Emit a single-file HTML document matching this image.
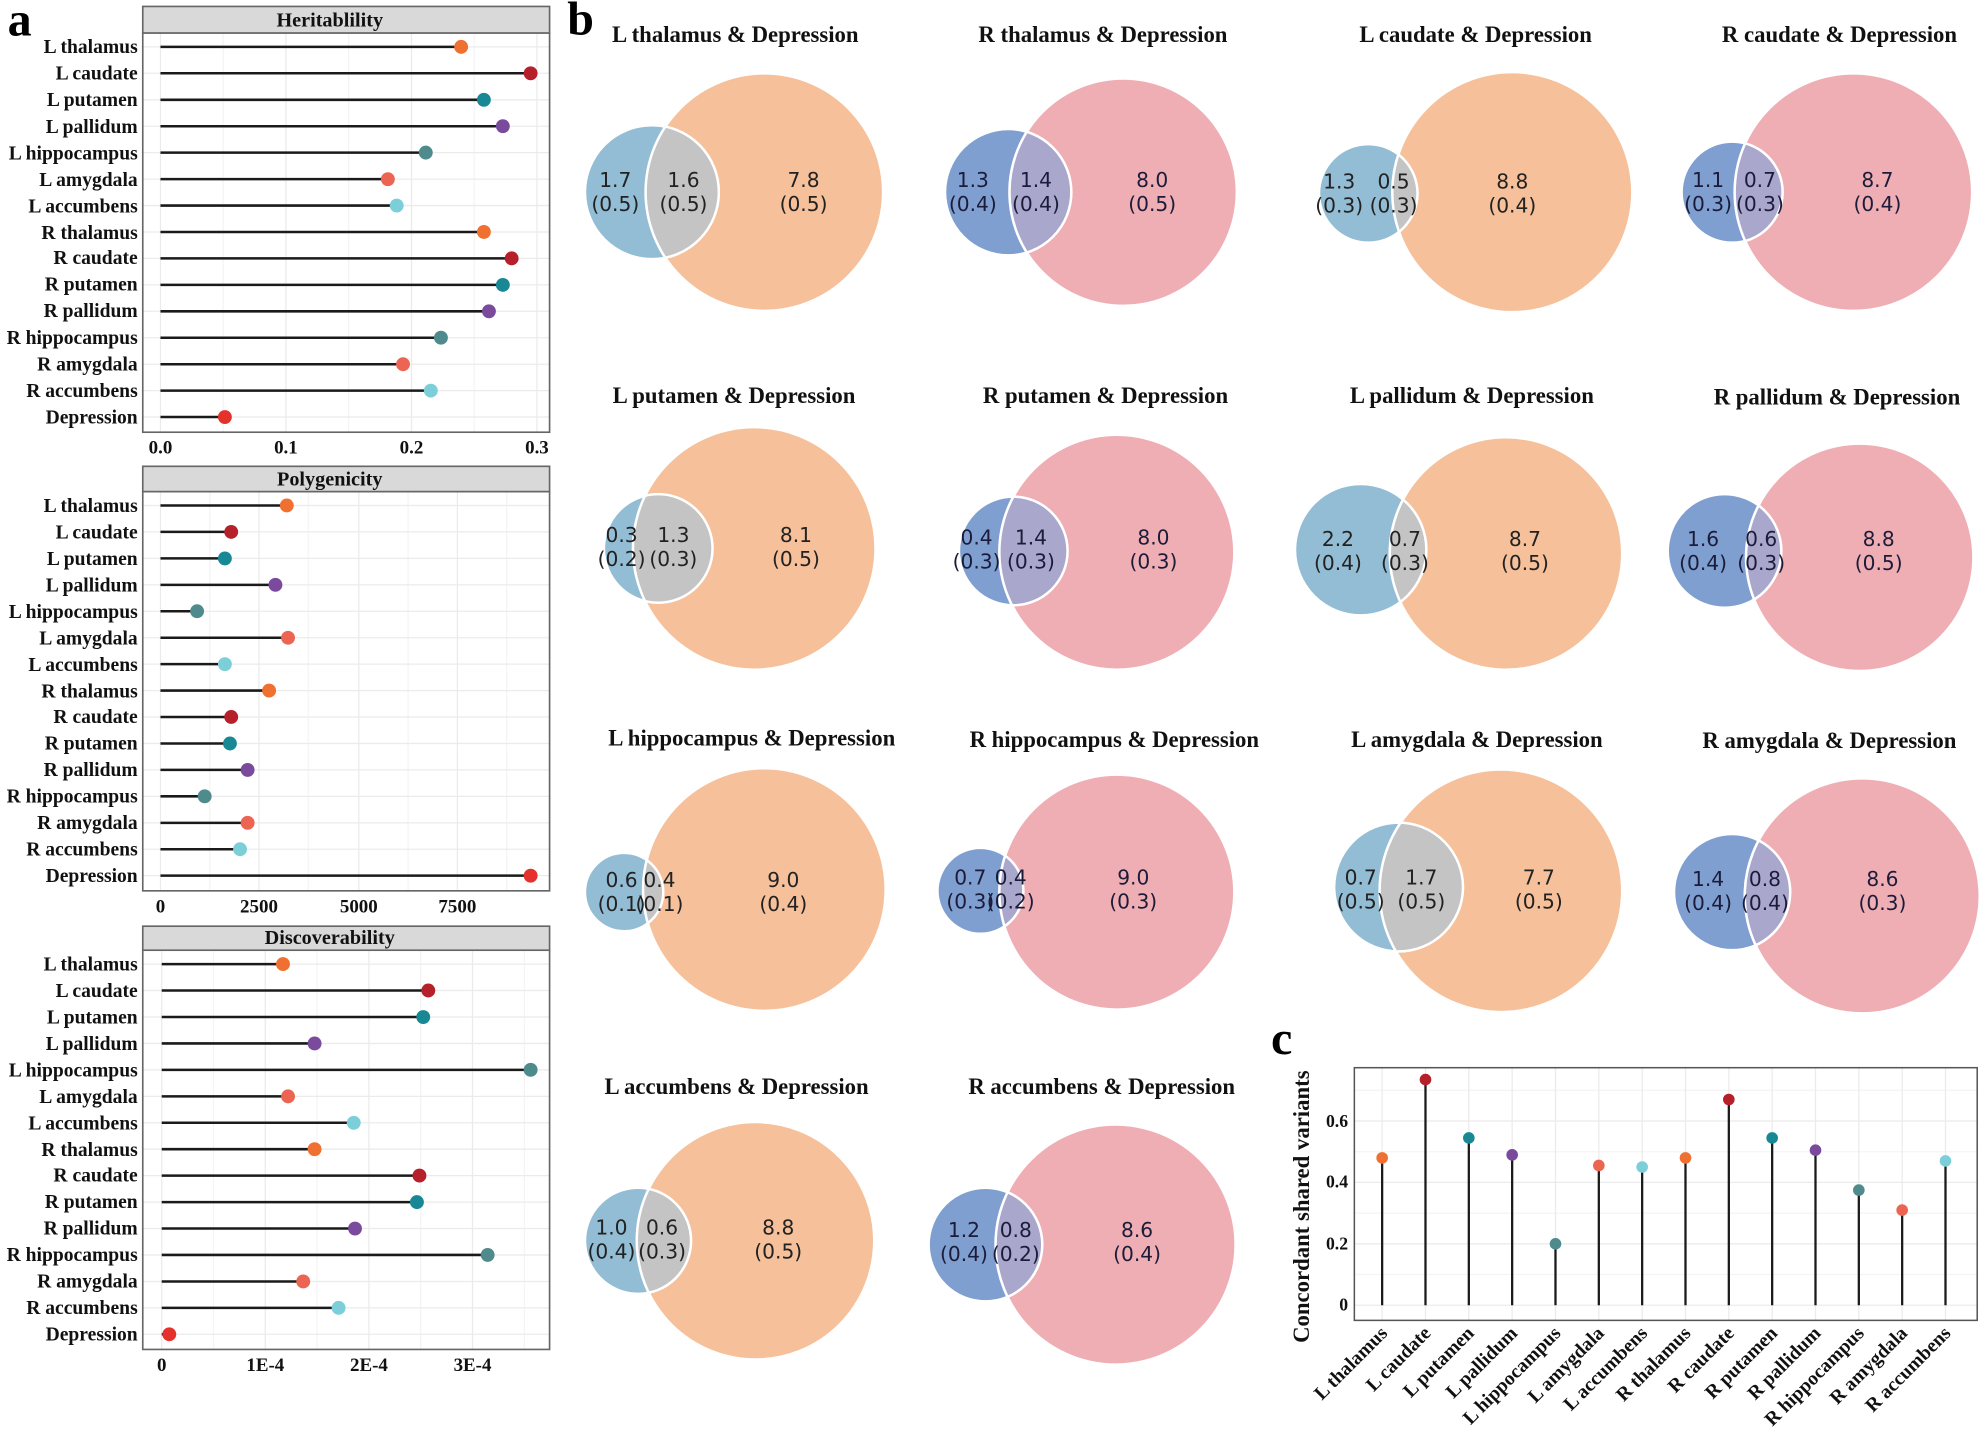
<!DOCTYPE html>
<html><head><meta charset="utf-8"><style>
html,body{margin:0;padding:0;background:#fff;}
svg{display:block;}
.lab{font-family:"Liberation Serif",serif;font-weight:bold;font-size:15.5px;fill:#111;}
.tick{font-family:"Liberation Serif",serif;font-weight:bold;font-size:15px;fill:#111;}
.ttl{font-family:"Liberation Serif",serif;font-weight:bold;font-size:18px;fill:#111;}
.big{font-family:"Liberation Serif",serif;font-weight:bold;font-size:38px;fill:#000;}
.vn{font-family:"DejaVu Sans",sans-serif;font-size:16px;fill:#222;}
.vp{font-family:"DejaVu Sans",sans-serif;font-size:16px;fill:#1c1c3a;}
.gl{stroke:#ebebeb;stroke-width:1;}
.gm{stroke:#f4f4f4;stroke-width:1;}
.sg{stroke:#1a1a1a;stroke-width:2;}
</style></head><body>
<svg width="1981" height="1438" viewBox="0 0 1568 1138" xmlns="http://www.w3.org/2000/svg">
<rect width="1568" height="1138" fill="#fff"/>
<text class="big" x="6" y="28">a</text>
<text class="big" x="449" y="27">b</text>
<text class="big" x="1006" y="834">c</text>

<!-- ===== Heritability ===== -->
<g>
<rect x="113" y="26" width="322" height="316" fill="#fff"/>
<g class="gm"><line x1="176.7" y1="26" x2="176.7" y2="342"/><line x1="276" y1="26" x2="276" y2="342"/><line x1="375.3" y1="26" x2="375.3" y2="342"/></g>
<g class="gl"><line x1="127" y1="26" x2="127" y2="342"/><line x1="226.3" y1="26" x2="226.3" y2="342"/><line x1="325.7" y1="26" x2="325.7" y2="342"/><line x1="425" y1="26" x2="425" y2="342"/>
<line x1="113" y1="37" x2="435" y2="37"/><line x1="113" y1="57.9" x2="435" y2="57.9"/><line x1="113" y1="78.9" x2="435" y2="78.9"/><line x1="113" y1="99.8" x2="435" y2="99.8"/><line x1="113" y1="120.7" x2="435" y2="120.7"/><line x1="113" y1="141.7" x2="435" y2="141.7"/><line x1="113" y1="162.6" x2="435" y2="162.6"/><line x1="113" y1="183.5" x2="435" y2="183.5"/><line x1="113" y1="204.4" x2="435" y2="204.4"/><line x1="113" y1="225.4" x2="435" y2="225.4"/><line x1="113" y1="246.3" x2="435" y2="246.3"/><line x1="113" y1="267.2" x2="435" y2="267.2"/><line x1="113" y1="288.2" x2="435" y2="288.2"/><line x1="113" y1="309.1" x2="435" y2="309.1"/><line x1="113" y1="330" x2="435" y2="330"/></g>
<g class="sg">
<line x1="127" y1="37" x2="365" y2="37"/><line x1="127" y1="57.9" x2="420" y2="57.9"/><line x1="127" y1="78.9" x2="383" y2="78.9"/><line x1="127" y1="99.8" x2="398" y2="99.8"/><line x1="127" y1="120.7" x2="337" y2="120.7"/><line x1="127" y1="141.7" x2="307" y2="141.7"/><line x1="127" y1="162.6" x2="314" y2="162.6"/><line x1="127" y1="183.5" x2="383" y2="183.5"/><line x1="127" y1="204.4" x2="405" y2="204.4"/><line x1="127" y1="225.4" x2="398" y2="225.4"/><line x1="127" y1="246.3" x2="387" y2="246.3"/><line x1="127" y1="267.2" x2="349" y2="267.2"/><line x1="127" y1="288.2" x2="319" y2="288.2"/><line x1="127" y1="309.1" x2="341" y2="309.1"/><line x1="127" y1="330" x2="178" y2="330"/></g>
<circle cx="365" cy="37" r="5.5" fill="#ef7030"/><circle cx="420" cy="57.9" r="5.5" fill="#b5202a"/><circle cx="383" cy="78.9" r="5.5" fill="#178894"/><circle cx="398" cy="99.8" r="5.5" fill="#7a4a9c"/><circle cx="337" cy="120.7" r="5.5" fill="#4f8a8d"/><circle cx="307" cy="141.7" r="5.5" fill="#ec6452"/><circle cx="314" cy="162.6" r="5.5" fill="#7ccfd8"/><circle cx="383" cy="183.5" r="5.5" fill="#ef7030"/><circle cx="405" cy="204.4" r="5.5" fill="#b5202a"/><circle cx="398" cy="225.4" r="5.5" fill="#178894"/><circle cx="387" cy="246.3" r="5.5" fill="#7a4a9c"/><circle cx="349" cy="267.2" r="5.5" fill="#4f8a8d"/><circle cx="319" cy="288.2" r="5.5" fill="#ec6452"/><circle cx="341" cy="309.1" r="5.5" fill="#7ccfd8"/><circle cx="178" cy="330" r="5.5" fill="#e4312b"/>
<rect x="113" y="26" width="322" height="316" fill="none" stroke="#666" stroke-width="1.3"/>
<rect x="113" y="5" width="322" height="21" fill="#d9d9d9" stroke="#666" stroke-width="1.3"/>
<text class="ttl" x="261" y="21" text-anchor="middle" style="font-size:16px">Heritablility</text>
<g class="lab" text-anchor="end">
<text x="109" y="42">L thalamus</text><text x="109" y="63">L caudate</text><text x="109" y="84">L putamen</text><text x="109" y="105">L pallidum</text><text x="109" y="126">L hippocampus</text><text x="109" y="147">L amygdala</text><text x="109" y="168">L accumbens</text><text x="109" y="189">R thalamus</text><text x="109" y="209">R caudate</text><text x="109" y="230">R putamen</text><text x="109" y="251">R pallidum</text><text x="109" y="272">R hippocampus</text><text x="109" y="293">R amygdala</text><text x="109" y="314">R accumbens</text><text x="109" y="335">Depression</text></g>
<g class="tick" text-anchor="middle"><text x="127" y="359">0.0</text><text x="226.3" y="359">0.1</text><text x="325.7" y="359">0.2</text><text x="425" y="359">0.3</text></g>
</g>

<!-- ===== Polygenicity ===== -->
<g>
<g class="gm"><line x1="166" y1="389" x2="166" y2="705"/><line x1="244" y1="389" x2="244" y2="705"/><line x1="323" y1="389" x2="323" y2="705"/><line x1="401" y1="389" x2="401" y2="705"/></g>
<g class="gl"><line x1="127" y1="389" x2="127" y2="705"/><line x1="205" y1="389" x2="205" y2="705"/><line x1="284" y1="389" x2="284" y2="705"/><line x1="362" y1="389" x2="362" y2="705"/>
<line x1="113" y1="400" x2="435" y2="400"/><line x1="113" y1="420.9" x2="435" y2="420.9"/><line x1="113" y1="441.9" x2="435" y2="441.9"/><line x1="113" y1="462.8" x2="435" y2="462.8"/><line x1="113" y1="483.7" x2="435" y2="483.7"/><line x1="113" y1="504.7" x2="435" y2="504.7"/><line x1="113" y1="525.6" x2="435" y2="525.6"/><line x1="113" y1="546.5" x2="435" y2="546.5"/><line x1="113" y1="567.4" x2="435" y2="567.4"/><line x1="113" y1="588.4" x2="435" y2="588.4"/><line x1="113" y1="609.3" x2="435" y2="609.3"/><line x1="113" y1="630.2" x2="435" y2="630.2"/><line x1="113" y1="651.2" x2="435" y2="651.2"/><line x1="113" y1="672.1" x2="435" y2="672.1"/><line x1="113" y1="693" x2="435" y2="693"/></g>
<g class="sg">
<line x1="127" y1="400" x2="227" y2="400"/><line x1="127" y1="420.9" x2="183" y2="420.9"/><line x1="127" y1="441.9" x2="178" y2="441.9"/><line x1="127" y1="462.8" x2="218" y2="462.8"/><line x1="127" y1="483.7" x2="156" y2="483.7"/><line x1="127" y1="504.7" x2="228" y2="504.7"/><line x1="127" y1="525.6" x2="178" y2="525.6"/><line x1="127" y1="546.5" x2="213" y2="546.5"/><line x1="127" y1="567.4" x2="183" y2="567.4"/><line x1="127" y1="588.4" x2="182" y2="588.4"/><line x1="127" y1="609.3" x2="196" y2="609.3"/><line x1="127" y1="630.2" x2="162" y2="630.2"/><line x1="127" y1="651.2" x2="196" y2="651.2"/><line x1="127" y1="672.1" x2="190" y2="672.1"/><line x1="127" y1="693" x2="420" y2="693"/></g>
<circle cx="227" cy="400" r="5.5" fill="#ef7030"/><circle cx="183" cy="420.9" r="5.5" fill="#b5202a"/><circle cx="178" cy="441.9" r="5.5" fill="#178894"/><circle cx="218" cy="462.8" r="5.5" fill="#7a4a9c"/><circle cx="156" cy="483.7" r="5.5" fill="#4f8a8d"/><circle cx="228" cy="504.7" r="5.5" fill="#ec6452"/><circle cx="178" cy="525.6" r="5.5" fill="#7ccfd8"/><circle cx="213" cy="546.5" r="5.5" fill="#ef7030"/><circle cx="183" cy="567.4" r="5.5" fill="#b5202a"/><circle cx="182" cy="588.4" r="5.5" fill="#178894"/><circle cx="196" cy="609.3" r="5.5" fill="#7a4a9c"/><circle cx="162" cy="630.2" r="5.5" fill="#4f8a8d"/><circle cx="196" cy="651.2" r="5.5" fill="#ec6452"/><circle cx="190" cy="672.1" r="5.5" fill="#7ccfd8"/><circle cx="420" cy="693" r="5.5" fill="#e4312b"/>
<rect x="113" y="389" width="322" height="316" fill="none" stroke="#666" stroke-width="1.3"/>
<rect x="113" y="369" width="322" height="20" fill="#d9d9d9" stroke="#666" stroke-width="1.3"/>
<text class="ttl" x="261" y="384" text-anchor="middle" style="font-size:16px">Polygenicity</text>
<g class="lab" text-anchor="end">
<text x="109" y="405">L thalamus</text><text x="109" y="426">L caudate</text><text x="109" y="447">L putamen</text><text x="109" y="468">L pallidum</text><text x="109" y="489">L hippocampus</text><text x="109" y="510">L amygdala</text><text x="109" y="531">L accumbens</text><text x="109" y="552">R thalamus</text><text x="109" y="572">R caudate</text><text x="109" y="593">R putamen</text><text x="109" y="614">R pallidum</text><text x="109" y="635">R hippocampus</text><text x="109" y="656">R amygdala</text><text x="109" y="677">R accumbens</text><text x="109" y="698">Depression</text></g>
<g class="tick" text-anchor="middle"><text x="127" y="722">0</text><text x="205" y="722">2500</text><text x="284" y="722">5000</text><text x="362" y="722">7500</text></g>
</g>

<!-- ===== Discoverability ===== -->
<g>
<g class="gm"><line x1="169" y1="752" x2="169" y2="1068"/><line x1="251" y1="752" x2="251" y2="1068"/><line x1="333" y1="752" x2="333" y2="1068"/><line x1="415" y1="752" x2="415" y2="1068"/></g>
<g class="gl"><line x1="128" y1="752" x2="128" y2="1068"/><line x1="210" y1="752" x2="210" y2="1068"/><line x1="292" y1="752" x2="292" y2="1068"/><line x1="374" y1="752" x2="374" y2="1068"/>
<line x1="113" y1="763" x2="435" y2="763"/><line x1="113" y1="783.9" x2="435" y2="783.9"/><line x1="113" y1="804.9" x2="435" y2="804.9"/><line x1="113" y1="825.8" x2="435" y2="825.8"/><line x1="113" y1="846.7" x2="435" y2="846.7"/><line x1="113" y1="867.7" x2="435" y2="867.7"/><line x1="113" y1="888.6" x2="435" y2="888.6"/><line x1="113" y1="909.5" x2="435" y2="909.5"/><line x1="113" y1="930.4" x2="435" y2="930.4"/><line x1="113" y1="951.4" x2="435" y2="951.4"/><line x1="113" y1="972.3" x2="435" y2="972.3"/><line x1="113" y1="993.2" x2="435" y2="993.2"/><line x1="113" y1="1014.2" x2="435" y2="1014.2"/><line x1="113" y1="1035.1" x2="435" y2="1035.1"/><line x1="113" y1="1056" x2="435" y2="1056"/></g>
<g class="sg">
<line x1="128" y1="763" x2="224" y2="763"/><line x1="128" y1="783.9" x2="339" y2="783.9"/><line x1="128" y1="804.9" x2="335" y2="804.9"/><line x1="128" y1="825.8" x2="249" y2="825.8"/><line x1="128" y1="846.7" x2="420" y2="846.7"/><line x1="128" y1="867.7" x2="228" y2="867.7"/><line x1="128" y1="888.6" x2="280" y2="888.6"/><line x1="128" y1="909.5" x2="249" y2="909.5"/><line x1="128" y1="930.4" x2="332" y2="930.4"/><line x1="128" y1="951.4" x2="330" y2="951.4"/><line x1="128" y1="972.3" x2="281" y2="972.3"/><line x1="128" y1="993.2" x2="386" y2="993.2"/><line x1="128" y1="1014.2" x2="240" y2="1014.2"/><line x1="128" y1="1035.1" x2="268" y2="1035.1"/><line x1="128" y1="1056" x2="134" y2="1056"/></g>
<circle cx="224" cy="763" r="5.5" fill="#ef7030"/><circle cx="339" cy="783.9" r="5.5" fill="#b5202a"/><circle cx="335" cy="804.9" r="5.5" fill="#178894"/><circle cx="249" cy="825.8" r="5.5" fill="#7a4a9c"/><circle cx="420" cy="846.7" r="5.5" fill="#4f8a8d"/><circle cx="228" cy="867.7" r="5.5" fill="#ec6452"/><circle cx="280" cy="888.6" r="5.5" fill="#7ccfd8"/><circle cx="249" cy="909.5" r="5.5" fill="#ef7030"/><circle cx="332" cy="930.4" r="5.5" fill="#b5202a"/><circle cx="330" cy="951.4" r="5.5" fill="#178894"/><circle cx="281" cy="972.3" r="5.5" fill="#7a4a9c"/><circle cx="386" cy="993.2" r="5.5" fill="#4f8a8d"/><circle cx="240" cy="1014.2" r="5.5" fill="#ec6452"/><circle cx="268" cy="1035.1" r="5.5" fill="#7ccfd8"/><circle cx="134" cy="1056" r="5.5" fill="#e4312b"/>
<rect x="113" y="752" width="322" height="316" fill="none" stroke="#666" stroke-width="1.3"/>
<rect x="113" y="733" width="322" height="19" fill="#d9d9d9" stroke="#666" stroke-width="1.3"/>
<text class="ttl" x="261" y="747" text-anchor="middle" style="font-size:16px">Discoverability</text>
<g class="lab" text-anchor="end">
<text x="109" y="768">L thalamus</text><text x="109" y="789">L caudate</text><text x="109" y="810">L putamen</text><text x="109" y="831">L pallidum</text><text x="109" y="852">L hippocampus</text><text x="109" y="873">L amygdala</text><text x="109" y="894">L accumbens</text><text x="109" y="915">R thalamus</text><text x="109" y="935">R caudate</text><text x="109" y="956">R putamen</text><text x="109" y="977">R pallidum</text><text x="109" y="998">R hippocampus</text><text x="109" y="1019">R amygdala</text><text x="109" y="1040">R accumbens</text><text x="109" y="1061">Depression</text></g>
<g class="tick" text-anchor="middle"><text x="128" y="1085">0</text><text x="210" y="1085">1E-4</text><text x="292" y="1085">2E-4</text><text x="374" y="1085">3E-4</text></g>
</g>

<!-- ===== Venn diagrams ===== -->
<defs>
<clipPath id="c1"><circle cx="605" cy="152" r="94"/></clipPath>
<clipPath id="c2"><circle cx="889" cy="152" r="90"/></clipPath>
<clipPath id="c3"><circle cx="1197" cy="152" r="95"/></clipPath>
<clipPath id="c4"><circle cx="1467" cy="152" r="94"/></clipPath>
<clipPath id="c5"><circle cx="597" cy="434" r="96"/></clipPath>
<clipPath id="c6"><circle cx="884" cy="437" r="93"/></clipPath>
<clipPath id="c7"><circle cx="1192" cy="438" r="92"/></clipPath>
<clipPath id="c8"><circle cx="1472" cy="441" r="90"/></clipPath>
<clipPath id="c9"><circle cx="605" cy="704" r="96"/></clipPath>
<clipPath id="c10"><circle cx="884" cy="706" r="93"/></clipPath>
<clipPath id="c11"><circle cx="1188" cy="705" r="96"/></clipPath>
<clipPath id="c12"><circle cx="1474" cy="709" r="93"/></clipPath>
<clipPath id="c13"><circle cx="598" cy="982" r="94"/></clipPath>
<clipPath id="c14"><circle cx="883" cy="985" r="95"/></clipPath>
</defs>

<g class="ttl" text-anchor="middle">
<text x="582" y="33">L thalamus &amp; Depression</text><text x="873" y="33">R thalamus &amp; Depression</text><text x="1168" y="33">L caudate &amp; Depression</text><text x="1456" y="33">R caudate &amp; Depression</text>
<text x="581" y="319">L putamen &amp; Depression</text><text x="875" y="319">R putamen &amp; Depression</text><text x="1165" y="319">L pallidum &amp; Depression</text><text x="1454" y="320">R pallidum &amp; Depression</text>
<text x="595" y="590">L hippocampus &amp; Depression</text><text x="882" y="591">R hippocampus &amp; Depression</text><text x="1169" y="591">L amygdala &amp; Depression</text><text x="1448" y="592">R amygdala &amp; Depression</text>
<text x="583" y="866">L accumbens &amp; Depression</text><text x="872" y="866">R accumbens &amp; Depression</text>
</g>

<!-- V1 -->
<g><circle cx="605" cy="152" r="94" fill="#f5c09a"/><circle cx="516" cy="152" r="53" fill="#93bdd4"/><circle cx="516" cy="152" r="53" fill="#c4c4c4" clip-path="url(#c1)"/><circle cx="516" cy="152" r="53" fill="none" stroke="#fff" stroke-width="2"/><circle cx="605" cy="152" r="94" fill="none" stroke="#fff" stroke-width="2"/>
<g class="vn" text-anchor="middle"><text x="487" y="148">1.7</text><text x="487" y="167">(0.5)</text><text x="541" y="148">1.6</text><text x="541" y="167">(0.5)</text><text x="636" y="148">7.8</text><text x="636" y="167">(0.5)</text></g></g>
<!-- V2 -->
<g><circle cx="889" cy="152" r="90" fill="#efaeb3"/><circle cx="798" cy="152" r="50" fill="#7f9fd0"/><circle cx="798" cy="152" r="50" fill="#aaa7cc" clip-path="url(#c2)"/><circle cx="798" cy="152" r="50" fill="none" stroke="#fff" stroke-width="2"/><circle cx="889" cy="152" r="90" fill="none" stroke="#fff" stroke-width="2"/>
<g class="vp" text-anchor="middle"><text x="770" y="148">1.3</text><text x="770" y="167">(0.4)</text><text x="820" y="148">1.4</text><text x="820" y="167">(0.4)</text><text x="912" y="148">8.0</text><text x="912" y="167">(0.5)</text></g></g>
<!-- V3 -->
<g><circle cx="1197" cy="152" r="95" fill="#f5c09a"/><circle cx="1083" cy="153" r="39" fill="#93bdd4"/><circle cx="1083" cy="153" r="39" fill="#c4c4c4" clip-path="url(#c3)"/><circle cx="1083" cy="153" r="39" fill="none" stroke="#fff" stroke-width="2"/><circle cx="1197" cy="152" r="95" fill="none" stroke="#fff" stroke-width="2"/>
<g class="vn" text-anchor="middle"><text x="1060" y="149">1.3</text><text x="1060" y="168">(0.3)</text><text x="1103" y="149">0.5</text><text x="1103" y="168">(0.3)</text><text x="1197" y="149">8.8</text><text x="1197" y="168">(0.4)</text></g></g>
<!-- V4 -->
<g><circle cx="1467" cy="152" r="94" fill="#efaeb3"/><circle cx="1371" cy="152" r="40" fill="#7f9fd0"/><circle cx="1371" cy="152" r="40" fill="#aaa7cc" clip-path="url(#c4)"/><circle cx="1371" cy="152" r="40" fill="none" stroke="#fff" stroke-width="2"/><circle cx="1467" cy="152" r="94" fill="none" stroke="#fff" stroke-width="2"/>
<g class="vp" text-anchor="middle"><text x="1352" y="148">1.1</text><text x="1352" y="167">(0.3)</text><text x="1393" y="148">0.7</text><text x="1393" y="167">(0.3)</text><text x="1486" y="148">8.7</text><text x="1486" y="167">(0.4)</text></g></g>
<!-- V5 -->
<g><circle cx="597" cy="434" r="96" fill="#f5c09a"/><circle cx="521" cy="434" r="43" fill="#93bdd4"/><circle cx="521" cy="434" r="43" fill="#c4c4c4" clip-path="url(#c5)"/><circle cx="521" cy="434" r="43" fill="none" stroke="#fff" stroke-width="2"/><circle cx="597" cy="434" r="96" fill="none" stroke="#fff" stroke-width="2"/>
<g class="vn" text-anchor="middle"><text x="492" y="429">0.3</text><text x="492" y="448">(0.2)</text><text x="533" y="429">1.3</text><text x="533" y="448">(0.3)</text><text x="630" y="429">8.1</text><text x="630" y="448">(0.5)</text></g></g>
<!-- V6 -->
<g><circle cx="884" cy="437" r="93" fill="#efaeb3"/><circle cx="802" cy="436" r="43" fill="#7f9fd0"/><circle cx="802" cy="436" r="43" fill="#aaa7cc" clip-path="url(#c6)"/><circle cx="802" cy="436" r="43" fill="none" stroke="#fff" stroke-width="2"/><circle cx="884" cy="437" r="93" fill="none" stroke="#fff" stroke-width="2"/>
<g class="vp" text-anchor="middle"><text x="773" y="431">0.4</text><text x="773" y="450">(0.3)</text><text x="816" y="431">1.4</text><text x="816" y="450">(0.3)</text><text x="913" y="431">8.0</text><text x="913" y="450">(0.3)</text></g></g>
<!-- V7 -->
<g><circle cx="1192" cy="438" r="92" fill="#f5c09a"/><circle cx="1077" cy="435" r="52" fill="#93bdd4"/><circle cx="1077" cy="435" r="52" fill="#c4c4c4" clip-path="url(#c7)"/><circle cx="1077" cy="435" r="52" fill="none" stroke="#fff" stroke-width="2"/><circle cx="1192" cy="438" r="92" fill="none" stroke="#fff" stroke-width="2"/>
<g class="vn" text-anchor="middle"><text x="1059" y="432">2.2</text><text x="1059" y="451">(0.4)</text><text x="1112" y="432">0.7</text><text x="1112" y="451">(0.3)</text><text x="1207" y="432">8.7</text><text x="1207" y="451">(0.5)</text></g></g>
<!-- V8 -->
<g><circle cx="1472" cy="441" r="90" fill="#efaeb3"/><circle cx="1365" cy="436" r="45" fill="#7f9fd0"/><circle cx="1365" cy="436" r="45" fill="#aaa7cc" clip-path="url(#c8)"/><circle cx="1365" cy="436" r="45" fill="none" stroke="#fff" stroke-width="2"/><circle cx="1472" cy="441" r="90" fill="none" stroke="#fff" stroke-width="2"/>
<g class="vp" text-anchor="middle"><text x="1348" y="432">1.6</text><text x="1348" y="451">(0.4)</text><text x="1394" y="432">0.6</text><text x="1394" y="451">(0.3)</text><text x="1487" y="432">8.8</text><text x="1487" y="451">(0.5)</text></g></g>
<!-- V9 -->
<g><circle cx="605" cy="704" r="96" fill="#f5c09a"/><circle cx="494" cy="706" r="31" fill="#93bdd4"/><circle cx="494" cy="706" r="31" fill="#c4c4c4" clip-path="url(#c9)"/><circle cx="494" cy="706" r="31" fill="none" stroke="#fff" stroke-width="2"/><circle cx="605" cy="704" r="96" fill="none" stroke="#fff" stroke-width="2"/>
<g class="vn" text-anchor="middle"><text x="492" y="702">0.6</text><text x="492" y="721">(0.1)</text><text x="522" y="702">0.4</text><text x="522" y="721">(0.1)</text><text x="620" y="702">9.0</text><text x="620" y="721">(0.4)</text></g></g>
<!-- V10 -->
<g><circle cx="884" cy="706" r="93" fill="#efaeb3"/><circle cx="776" cy="705" r="34" fill="#7f9fd0"/><circle cx="776" cy="705" r="34" fill="#aaa7cc" clip-path="url(#c10)"/><circle cx="776" cy="705" r="34" fill="none" stroke="#fff" stroke-width="2"/><circle cx="884" cy="706" r="93" fill="none" stroke="#fff" stroke-width="2"/>
<g class="vp" text-anchor="middle"><text x="768" y="700">0.7</text><text x="768" y="719">(0.3)</text><text x="800" y="700">0.4</text><text x="800" y="719">(0.2)</text><text x="897" y="700">9.0</text><text x="897" y="719">(0.3)</text></g></g>
<!-- V11 -->
<g><circle cx="1188" cy="705" r="96" fill="#f5c09a"/><circle cx="1107" cy="702" r="51" fill="#93bdd4"/><circle cx="1107" cy="702" r="51" fill="#c4c4c4" clip-path="url(#c11)"/><circle cx="1107" cy="702" r="51" fill="none" stroke="#fff" stroke-width="2"/><circle cx="1188" cy="705" r="96" fill="none" stroke="#fff" stroke-width="2"/>
<g class="vn" text-anchor="middle"><text x="1077" y="700">0.7</text><text x="1077" y="719">(0.5)</text><text x="1125" y="700">1.7</text><text x="1125" y="719">(0.5)</text><text x="1218" y="700">7.7</text><text x="1218" y="719">(0.5)</text></g></g>
<!-- V12 -->
<g><circle cx="1474" cy="709" r="93" fill="#efaeb3"/><circle cx="1371" cy="706" r="46" fill="#7f9fd0"/><circle cx="1371" cy="706" r="46" fill="#aaa7cc" clip-path="url(#c12)"/><circle cx="1371" cy="706" r="46" fill="none" stroke="#fff" stroke-width="2"/><circle cx="1474" cy="709" r="93" fill="none" stroke="#fff" stroke-width="2"/>
<g class="vp" text-anchor="middle"><text x="1352" y="701">1.4</text><text x="1352" y="720">(0.4)</text><text x="1397" y="701">0.8</text><text x="1397" y="720">(0.4)</text><text x="1490" y="701">8.6</text><text x="1490" y="720">(0.3)</text></g></g>
<!-- V13 -->
<g><circle cx="598" cy="982" r="94" fill="#f5c09a"/><circle cx="505" cy="982" r="42" fill="#93bdd4"/><circle cx="505" cy="982" r="42" fill="#c4c4c4" clip-path="url(#c13)"/><circle cx="505" cy="982" r="42" fill="none" stroke="#fff" stroke-width="2"/><circle cx="598" cy="982" r="94" fill="none" stroke="#fff" stroke-width="2"/>
<g class="vn" text-anchor="middle"><text x="484" y="977">1.0</text><text x="484" y="996">(0.4)</text><text x="524" y="977">0.6</text><text x="524" y="996">(0.3)</text><text x="616" y="977">8.8</text><text x="616" y="996">(0.5)</text></g></g>
<!-- V14 -->
<g><circle cx="883" cy="985" r="95" fill="#efaeb3"/><circle cx="780" cy="985" r="45" fill="#7f9fd0"/><circle cx="780" cy="985" r="45" fill="#aaa7cc" clip-path="url(#c14)"/><circle cx="780" cy="985" r="45" fill="none" stroke="#fff" stroke-width="2"/><circle cx="883" cy="985" r="95" fill="none" stroke="#fff" stroke-width="2"/>
<g class="vp" text-anchor="middle"><text x="763" y="979">1.2</text><text x="763" y="998">(0.4)</text><text x="804" y="979">0.8</text><text x="804" y="998">(0.2)</text><text x="900" y="979">8.6</text><text x="900" y="998">(0.4)</text></g></g>

<!-- ===== Panel c ===== -->
<g>
<g class="gm"><line x1="1072" y1="1008.7" x2="1565" y2="1008.7"/><line x1="1072" y1="960.1" x2="1565" y2="960.1"/><line x1="1072" y1="911.5" x2="1565" y2="911.5"/><line x1="1072" y1="862.9" x2="1565" y2="862.9"/></g>
<g class="gl">
<line x1="1072" y1="1033" x2="1565" y2="1033"/><line x1="1072" y1="984.4" x2="1565" y2="984.4"/><line x1="1072" y1="935.8" x2="1565" y2="935.8"/><line x1="1072" y1="887.2" x2="1565" y2="887.2"/>
<line x1="1094" y1="845" x2="1094" y2="1045"/><line x1="1128.3" y1="845" x2="1128.3" y2="1045"/><line x1="1162.6" y1="845" x2="1162.6" y2="1045"/><line x1="1196.9" y1="845" x2="1196.9" y2="1045"/><line x1="1231.2" y1="845" x2="1231.2" y2="1045"/><line x1="1265.5" y1="845" x2="1265.5" y2="1045"/><line x1="1299.8" y1="845" x2="1299.8" y2="1045"/><line x1="1334.1" y1="845" x2="1334.1" y2="1045"/><line x1="1368.4" y1="845" x2="1368.4" y2="1045"/><line x1="1402.7" y1="845" x2="1402.7" y2="1045"/><line x1="1437" y1="845" x2="1437" y2="1045"/><line x1="1471.3" y1="845" x2="1471.3" y2="1045"/><line x1="1505.6" y1="845" x2="1505.6" y2="1045"/><line x1="1539.9" y1="845" x2="1539.9" y2="1045"/></g>
<g stroke="#1a1a1a" stroke-width="1.8">
<line x1="1094" y1="1033" x2="1094" y2="916.4"/><line x1="1128.3" y1="1033" x2="1128.3" y2="854.4"/><line x1="1162.6" y1="1033" x2="1162.6" y2="900.6"/><line x1="1196.9" y1="1033" x2="1196.9" y2="914"/><line x1="1231.2" y1="1033" x2="1231.2" y2="984.4"/><line x1="1265.5" y1="1033" x2="1265.5" y2="922.4"/><line x1="1299.8" y1="1033" x2="1299.8" y2="923.6"/><line x1="1334.1" y1="1033" x2="1334.1" y2="916.4"/><line x1="1368.4" y1="1033" x2="1368.4" y2="870.2"/><line x1="1402.7" y1="1033" x2="1402.7" y2="900.6"/><line x1="1437" y1="1033" x2="1437" y2="910.3"/><line x1="1471.3" y1="1033" x2="1471.3" y2="941.9"/><line x1="1505.6" y1="1033" x2="1505.6" y2="957.7"/><line x1="1539.9" y1="1033" x2="1539.9" y2="918.8"/></g>
<circle cx="1094" cy="916.4" r="4.6" fill="#ef7030"/><circle cx="1128.3" cy="854.4" r="4.6" fill="#b5202a"/><circle cx="1162.6" cy="900.6" r="4.6" fill="#178894"/><circle cx="1196.9" cy="914" r="4.6" fill="#7a4a9c"/><circle cx="1231.2" cy="984.4" r="4.6" fill="#4f8a8d"/><circle cx="1265.5" cy="922.4" r="4.6" fill="#ec6452"/><circle cx="1299.8" cy="923.6" r="4.6" fill="#7ccfd8"/><circle cx="1334.1" cy="916.4" r="4.6" fill="#ef7030"/><circle cx="1368.4" cy="870.2" r="4.6" fill="#b5202a"/><circle cx="1402.7" cy="900.6" r="4.6" fill="#178894"/><circle cx="1437" cy="910.3" r="4.6" fill="#7a4a9c"/><circle cx="1471.3" cy="941.9" r="4.6" fill="#4f8a8d"/><circle cx="1505.6" cy="957.7" r="4.6" fill="#ec6452"/><circle cx="1539.9" cy="918.8" r="4.6" fill="#7ccfd8"/>
<rect x="1072" y="845" width="493" height="200" fill="none" stroke="#555" stroke-width="1.2"/>
<g class="tick" text-anchor="end" style="font-size:14px"><text x="1067" y="1037">0</text><text x="1067" y="989">0.2</text><text x="1067" y="940">0.4</text><text x="1067" y="892">0.6</text></g>
<text class="ttl" transform="translate(1036,955) rotate(-90)" text-anchor="middle" style="font-size:18px">Concordant shared variants</text>
<g class="lab" text-anchor="end" style="font-size:15.5px">
<text transform="translate(1099,1056) rotate(-45)">L thalamus</text><text transform="translate(1133.3,1056) rotate(-45)">L caudate</text><text transform="translate(1167.6,1056) rotate(-45)">L putamen</text><text transform="translate(1201.9,1056) rotate(-45)">L pallidum</text><text transform="translate(1236.2,1056) rotate(-45)">L hippocampus</text><text transform="translate(1270.5,1056) rotate(-45)">L amygdala</text><text transform="translate(1304.8,1056) rotate(-45)">L accumbens</text><text transform="translate(1339.1,1056) rotate(-45)">R thalamus</text><text transform="translate(1373.4,1056) rotate(-45)">R caudate</text><text transform="translate(1407.7,1056) rotate(-45)">R putamen</text><text transform="translate(1442,1056) rotate(-45)">R pallidum</text><text transform="translate(1476.3,1056) rotate(-45)">R hippocampus</text><text transform="translate(1510.6,1056) rotate(-45)">R amygdala</text><text transform="translate(1544.9,1056) rotate(-45)">R accumbens</text></g>
</g>
</svg>
</body></html>
